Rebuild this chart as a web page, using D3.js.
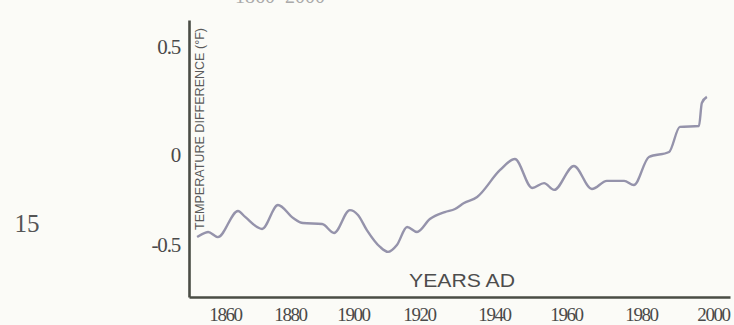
<!DOCTYPE html>
<html><head><meta charset="utf-8">
<script src="https://cdn.jsdelivr.net/npm/d3@7"></script>
<style>
html,body{margin:0;padding:0;background:#fbfbf7;overflow:hidden;}
</style></head>
<body><svg id="c" width="734" height="325"></svg>
<script>
// ---- data ----
const years = [1851.4,1853.8,1854.8,1857.8,1864.0,1866.2,1871.4,1876.3,1881.0,1884.1,1890.2,1894.0,1899.0,1901.5,1904.2,1908.2,1910.6,1913.3,1916.4,1919.4,1922.9,1926.9,1929.6,1932.0,1935.5,1941.7,1945.8,1950.6,1953.9,1956.7,1962.1,1966.9,1970.9,1975.5,1978.1,1982.2,1987.8,1990.8,1996.1,1996.9,1998.3];
const temps = [-0.456,-0.433,-0.428,-0.456,-0.311,-0.344,-0.411,-0.278,-0.35,-0.378,-0.383,-0.433,-0.306,-0.333,-0.417,-0.511,-0.539,-0.5,-0.4,-0.428,-0.356,-0.317,-0.3,-0.267,-0.233,-0.083,-0.022,-0.183,-0.156,-0.194,-0.061,-0.189,-0.144,-0.144,-0.167,-0.011,0.014,0.130,0.134,0.241,0.269];
const xTicks = [1860,1880,1900,1920,1940,1960,1980,2000];
const yTicks = [-0.5,0,0.5];
const yTickLabels = ["-0.5","0","0.5"];
const yTitle = "TEMPERATURE DIFFERENCE (°F)";
const xTitle = "YEARS  AD";
const sideLabel = "15";
const topLabel = "1860–2000";

const svg = d3.select("#c");

// scales (scanned print is slightly uneven, so piecewise-linear)
const x = d3.scaleLinear()
  .domain([1848.9, 1860,1880,1900,1920,1940,1960,1980,2000, 2004.7])
  .range([189, 225,290,353,419,494,566,641,713, 730]);
const y = d3.scaleLinear()
  .domain([-0.794, -0.5, 0, 0.5, 0.625])
  .range([297, 245, 155, 47, 20]);

// top caption, cut off by the frame as in the reference
svg.append("text").attr("x", 280).attr("y", 2.5).attr("text-anchor","middle")
  .attr("font-family","Liberation Serif").attr("font-size",20).attr("fill","#aaa")
  .text(topLabel);

// side label
svg.append("text").attr("x", 27).attr("y", 232).attr("text-anchor","middle")
  .attr("font-family","Liberation Serif").attr("font-size",25).attr("fill","#555")
  .text(sideLabel);

// y axis
const yAxis = d3.axisLeft(y).tickValues(yTicks).tickSize(0).tickPadding(9)
  .tickFormat((d,i)=>yTickLabels[i]);
const gy = svg.append("g").attr("transform","translate(189,0)").call(yAxis);
gy.select(".domain").attr("stroke","#4a4d45").attr("stroke-width",2.6);
gy.selectAll("text").attr("font-family","Liberation Serif").attr("font-size",21)
  .attr("fill","#4a4a4a").attr("letter-spacing",-1.2);

// x axis
const xAxis = d3.axisBottom(x).tickValues(xTicks).tickSize(0).tickPadding(11)
  .tickFormat(d3.format("d"));
const gx = svg.append("g").attr("transform","translate(0,297)").call(xAxis);
gx.select(".domain").attr("stroke","#4a4d45").attr("stroke-width",2.6);
gx.selectAll("text").attr("font-family","Liberation Serif").attr("font-size",19)
  .attr("fill","#4a4a4a").attr("letter-spacing",-1.4);

// y title (rotated)
svg.append("text")
  .attr("transform","translate(204,230) rotate(-90)")
  .attr("font-family","Liberation Sans Narrow, Liberation Sans, sans-serif")
  .attr("font-size",12.5).attr("fill","#5a5a5a")
  .attr("textLength",202).attr("lengthAdjust","spacingAndGlyphs")
  .text(yTitle);

// x title
svg.append("text").attr("x",409).attr("y",287)
  .attr("font-family","Liberation Sans, sans-serif").attr("font-size",19)
  .attr("fill","#4d4d4d").attr("textLength",106).attr("lengthAdjust","spacingAndGlyphs")
  .text(xTitle);

// line
const line = d3.line().x((d,i)=>x(years[i])).y((d,i)=>y(temps[i])).curve(d3.curveMonotoneX);
svg.append("path").datum(temps).attr("d",line)
  .attr("fill","none").attr("stroke","#9593ab").attr("stroke-width",2.4)
  .attr("stroke-linejoin","round");
</script>
</body></html>
